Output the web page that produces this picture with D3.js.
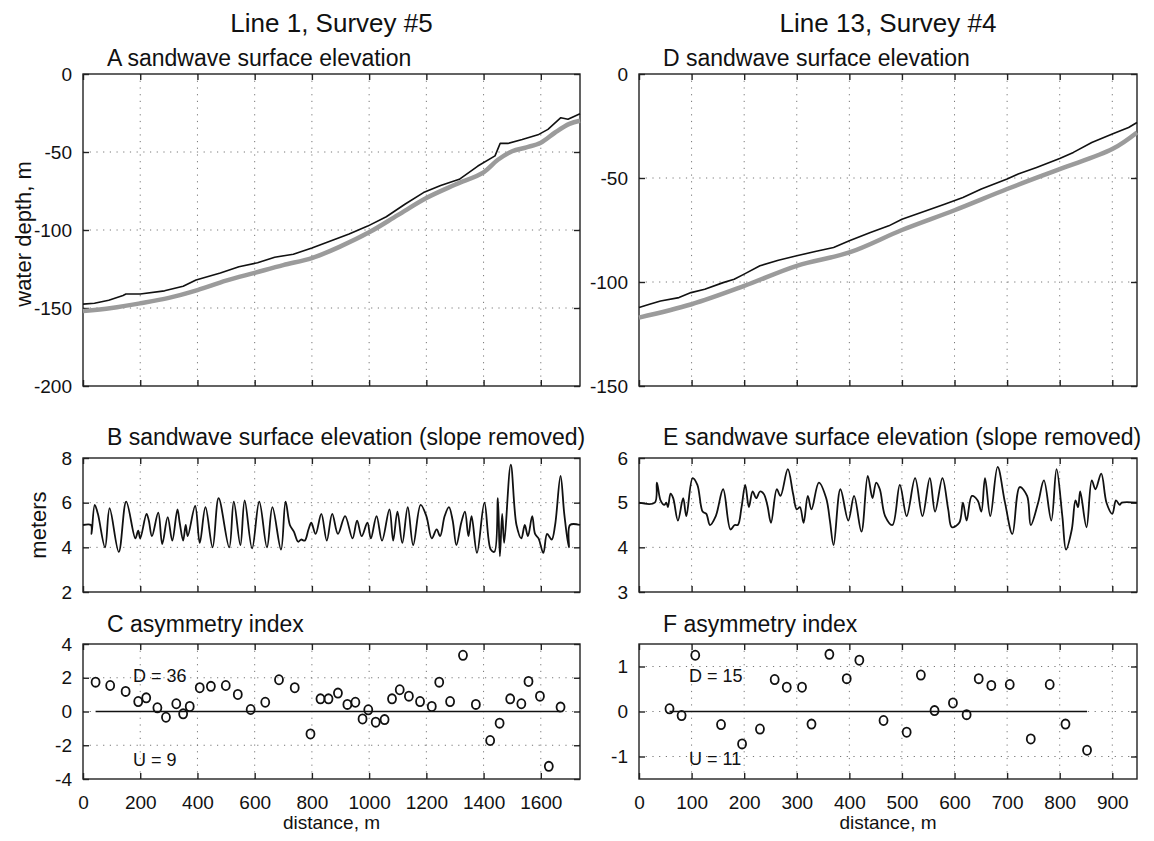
<!DOCTYPE html>
<html>
<head>
<meta charset="utf-8">
<script src="https://cdn.jsdelivr.net/npm/d3@7"></script>
<style>
    body { margin: 0; background: #fff; }
    svg { display: block; font-family: "Liberation Sans", Arial, Helvetica, sans-serif; }
</style>
</head>
<body>
<svg></svg>
<script>
// --- data ---

// Line 1, Survey #5 : profile (black) and smoothed trend (grey)
const distA1 = [0, 40, 90, 140, 150, 200, 285, 350, 395, 480, 545, 610, 670, 735, 800, 865, 930, 995, 1060, 1125, 1190, 1250, 1315, 1380, 1440, 1458, 1485, 1535, 1590, 1625, 1670, 1695, 1737];
const depthA1 = [-147.5, -147, -145, -142, -141, -141, -139, -136, -132, -127.5, -123.5, -121, -117.5, -115.5, -111.5, -107, -102.5, -97.5, -91.5, -83.5, -76, -71.5, -67.5, -59, -52.5, -44.5, -44.5, -42, -39, -35.5, -28, -29, -25.5];
const distA2 = [0, 100, 200, 300, 400, 500, 600, 700, 800, 900, 1000, 1100, 1200, 1300, 1400, 1450, 1500, 1550, 1600, 1650, 1700, 1737];
const depthA2 = [-152, -150, -147, -143.5, -138.5, -132.5, -127.5, -122.5, -118, -110.5, -101.5, -90.5, -79.5, -71, -63, -55, -49.5, -47, -44, -37.5, -32, -30];

// Line 1 : slope removed
const distB = [0, 28, 30, 41, 52, 77, 93, 125, 151, 183, 193, 200, 222, 230, 241, 263, 277, 296, 312, 330, 338, 350, 359, 366, 392, 408, 428, 453, 474, 511, 527, 550, 565, 591, 616, 643, 662, 692, 708, 723, 737, 752, 762, 775, 788, 798, 813, 833, 852, 871, 891, 916, 942, 958, 974, 994, 1006, 1026, 1045, 1071, 1084, 1099, 1116, 1135, 1154, 1180, 1200, 1219, 1236, 1248, 1264, 1279, 1292, 1305, 1322, 1335, 1347, 1358, 1377, 1403, 1425, 1438, 1450, 1457, 1465, 1472, 1495, 1515, 1532, 1544, 1555, 1570, 1580, 1592, 1609, 1622, 1638, 1650, 1669, 1682, 1698, 1702, 1737];
const elevB = [5, 5, 4.6, 5.9, 5.5, 4.0, 5.75, 3.8, 6.05, 4.4, 4.75, 4.4, 5.5, 5.2, 4.5, 5.55, 4.15, 5.35, 4.3, 5.7, 5.1, 4.3, 5.0, 4.5, 5.85, 4.2, 5.8, 4.0, 6.2, 4.0, 6.05, 4.1, 6.1, 3.95, 6.05, 4.0, 5.8, 3.9, 6.05, 5.0, 4.7, 4.25, 4.35, 4.3, 4.8, 5.1, 4.6, 5.5, 4.3, 5.5, 4.6, 5.4, 4.4, 5.2, 4.5, 5.1, 4.4, 5.4, 4.3, 5.7, 4.3, 5.6, 4.2, 5.8, 4.1, 5.9, 5.4, 4.4, 4.8, 4.5, 5.4, 5.8, 5.2, 4.1, 5.1, 5.6, 4.5, 5.4, 3.75, 6.0, 3.9, 3.8, 6.2, 3.6, 5.5, 4.2, 7.7, 5.0, 4.4, 5.0, 4.5, 5.4, 4.6, 4.4, 3.75, 4.6, 4.35, 5.0, 7.2, 5.5, 4.0, 5.0, 5.0];

// Line 1 : asymmetry index
const distC = [44, 95, 149, 193, 221, 260, 290, 326, 350, 373, 408, 447, 499, 541, 586, 637, 685, 740, 795, 830, 858, 891, 924, 952, 977, 997, 1023, 1054, 1080, 1107, 1139, 1178, 1219, 1245, 1283, 1328, 1373, 1423, 1456, 1493, 1532, 1557, 1597, 1628, 1669];
const asymC = [1.74, 1.54, 1.19, 0.59, 0.81, 0.22, -0.34, 0.46, -0.14, 0.30, 1.41, 1.49, 1.54, 1.01, 0.12, 0.55, 1.88, 1.41, -1.33, 0.75, 0.75, 1.09, 0.42, 0.55, -0.44, 0.10, -0.63, -0.48, 0.75, 1.29, 0.91, 0.59, 0.30, 1.74, 0.59, 3.33, 0.42, -1.72, -0.69, 0.75, 0.46, 1.78, 0.91, -3.25, 0.26];

// Line 13, Survey #4 : profile (black) and smoothed trend (grey)
const distD1 = [0, 20, 41, 76, 99, 125, 160, 181, 200, 230, 265, 300, 335, 370, 400, 440, 475, 500, 546, 581, 616, 651, 700, 721, 756, 800, 826, 861, 900, 931, 947];
const depthD1 = [-112.3, -110.7, -109.1, -107.5, -105.1, -103.5, -100.3, -98.7, -96.2, -92.2, -89.5, -87.4, -85.3, -83.4, -80.2, -76.2, -73, -69.8, -65.8, -62.6, -59.4, -55.3, -50.5, -48.1, -44.9, -40.6, -37.7, -32.9, -28.9, -25.7, -23.3];
const distD2 = [0, 100, 200, 300, 400, 500, 600, 700, 800, 900, 947];
const depthD2 = [-117.1, -110.7, -101.9, -92.2, -85.8, -75, -65.5, -55.3, -45.7, -36.1, -28.1];

// Line 13 : slope removed
const distE = [0, 30, 34, 41, 48, 52, 55, 60, 65, 74, 84, 90, 102, 111, 121, 128, 135, 146, 160, 174, 182, 188, 195, 202, 209, 216, 223, 230, 237, 244, 251, 262, 269, 283, 293, 300, 306, 313, 321, 328, 342, 356, 363, 370, 383, 398, 409, 423, 435, 444, 451, 458, 468, 482, 496, 509, 525, 539, 553, 563, 577, 588, 595, 609, 616, 623, 633, 644, 651, 658, 668, 682, 696, 710, 724, 738, 745, 759, 770, 784, 794, 805, 812, 823, 830, 835, 839, 851, 861, 868, 879, 889, 900, 907, 914, 918, 947];
const elevE = [5, 5, 5.45, 5.05, 4.95, 5.0, 4.9, 5.2, 5.1, 4.6, 5.1, 4.7, 5.55, 5.4, 4.8, 4.75, 4.5, 4.7, 5.3, 4.4, 4.5, 4.5, 4.9, 5.4, 4.9, 5.25, 5.1, 5.25, 5.2, 4.95, 4.55, 5.3, 5.15, 5.75, 5.2, 4.85, 4.9, 4.55, 5.15, 4.85, 5.45, 5.1, 4.6, 4.05, 5.3, 4.6, 5.15, 4.35, 5.6, 5.1, 5.45, 5.3, 4.7, 4.5, 5.4, 4.7, 5.55, 4.7, 5.55, 4.8, 5.55, 4.85, 4.45, 4.55, 5.0, 4.6, 5.15, 5.05, 4.8, 5.55, 4.7, 5.8, 5.0, 4.3, 5.35, 5.15, 4.5, 5.0, 5.5, 4.6, 5.75, 4.7, 3.95, 4.4, 5.05, 4.9, 5.25, 4.45, 5.5, 5.3, 5.65, 5.0, 4.75, 5.05, 4.95, 5.0, 5.0];

// Line 13 : asymmetry index
const distF = [58, 81, 107, 156, 196, 230, 258, 281, 310, 328, 362, 395, 419, 465, 509, 536, 562, 597, 623, 646, 670, 705, 745, 781, 811, 852];
const asymF = [0.06, -0.09, 1.25, -0.29, -0.72, -0.39, 0.71, 0.54, 0.54, -0.28, 1.27, 0.73, 1.14, -0.20, -0.46, 0.81, 0.02, 0.19, -0.07, 0.73, 0.58, 0.60, -0.61, 0.60, -0.28, -0.86];

const ticksLeftX = [0, 200, 400, 600, 800, 1000, 1200, 1400, 1600];
const ticksRightX = [0, 100, 200, 300, 400, 500, 600, 700, 800, 900];

// --- layout ---
const width = 1154;
const height = 841;
const ink = "#111";

const svg = d3.select("svg").attr("width", width).attr("height", height);

const colLeft = { x: 83, w: 497, domain: [0, 1737], ticks: ticksLeftX };
const colRight = { x: 639, w: 498, domain: [0, 947], ticks: ticksRightX };
const rowTop = { y: 74, h: 312 };
const rowMid = { y: 458, h: 134 };
const rowBot = { y: 644, h: 135 };

function panel(col, row, yDomain, yTicks, showX) {
    const g = svg.append("g").attr("transform", `translate(${col.x},${row.y})`);
    const x = d3.scaleLinear().domain(col.domain).range([0, col.w]);
    const y = d3.scaleLinear().domain(yDomain).range([row.h, 0]);

    // dotted grid
    g.selectAll("line.gx")
        .data(col.ticks.filter(t => t > col.domain[0] && t < col.domain[1]))
        .enter().append("line")
        .attr("x1", d => x(d)).attr("x2", d => x(d))
        .attr("y1", 0).attr("y2", row.h)
        .attr("stroke", "#777").attr("stroke-width", 1)
        .attr("stroke-dasharray", "1.2,5.5");
    g.selectAll("line.gy")
        .data(yTicks.filter(t => t > yDomain[0] && t < yDomain[1]))
        .enter().append("line")
        .attr("x1", 0).attr("x2", col.w)
        .attr("y1", d => y(d)).attr("y2", d => y(d))
        .attr("stroke", "#777").attr("stroke-width", 1)
        .attr("stroke-dasharray", "1.2,5.5");

    const axes = [
        g.append("g").attr("transform", `translate(0,${row.h})`)
            .call(d3.axisBottom(x).tickValues(col.ticks).tickSizeInner(-6).tickSizeOuter(0)
                .tickPadding(17).tickFormat(showX ? d => String(d) : "")),
        g.append("g")
            .call(d3.axisTop(x).tickValues(col.ticks).tickSizeInner(-6).tickSizeOuter(0).tickFormat("")),
        g.append("g")
            .call(d3.axisLeft(y).tickValues(yTicks).tickSizeInner(-6).tickSizeOuter(0)
                .tickPadding(11).tickFormat(d => String(d))),
        g.append("g").attr("transform", `translate(${col.w},0)`)
            .call(d3.axisRight(y).tickValues(yTicks).tickSizeInner(-6).tickSizeOuter(0).tickFormat(""))
    ];
    axes.forEach(a => {
        a.attr("font-family", null).attr("font-size", 19).style("color", ink);
        a.select(".domain").remove();
        a.selectAll(".tick line").attr("stroke", "#222").attr("stroke-width", 1.4);
    });

    g.append("rect")
        .attr("width", col.w).attr("height", row.h)
        .attr("fill", "none").attr("stroke", "#222").attr("stroke-width", 1.4);

    return { g, x, y };
}

function heading(col, baseline, letter, text) {
    svg.append("text")
        .attr("x", col.x + 24).attr("y", baseline)
        .attr("fill", ink).attr("font-size", 23)
        .text(letter + " " + text);
}

function profile(p, xs, ys, color, w, smooth) {
    const line = d3.line()
        .x(d => p.x(d[0]))
        .y(d => p.y(d[1]))
        .curve(smooth ? d3.curveCatmullRom.alpha(0.5) : d3.curveLinear);
    p.g.append("path")
        .datum(d3.zip(xs, ys))
        .attr("d", line)
        .attr("fill", "none")
        .attr("stroke", color)
        .attr("stroke-width", w)
        .attr("stroke-linejoin", "round");
}

function scatter(p, xs, ys) {
    const pts = d3.zip(xs, ys);
    p.g.append("line")
        .attr("x1", p.x(d3.min(xs))).attr("x2", p.x(d3.max(xs)))
        .attr("y1", p.y(0)).attr("y2", p.y(0))
        .attr("stroke", ink).attr("stroke-width", 1.3);
    p.g.selectAll("ellipse")
        .data(pts)
        .enter().append("ellipse")
        .attr("cx", d => p.x(d[0])).attr("cy", d => p.y(d[1]))
        .attr("rx", 4).attr("ry", 4.6)
        .attr("fill", "none").attr("stroke", ink).attr("stroke-width", 1.8);
}

function note(p, xv, yv, text) {
    p.g.append("text")
        .attr("x", p.x(xv)).attr("y", p.y(yv))
        .attr("fill", ink).attr("font-size", 18)
        .text(text);
}

// column titles
svg.append("text").attr("x", colLeft.x + colLeft.w / 2).attr("y", 32)
    .attr("text-anchor", "middle").attr("font-size", 26).attr("fill", ink)
    .text("Line 1, Survey #5");
svg.append("text").attr("x", colRight.x + colRight.w / 2).attr("y", 32)
    .attr("text-anchor", "middle").attr("font-size", 26).attr("fill", ink)
    .text("Line 13, Survey #4");

// A
const pA = panel(colLeft, rowTop, [-200, 0], [-200, -150, -100, -50, 0], false);
heading(colLeft, 66, "A", "sandwave surface elevation");
profile(pA, distA2, depthA2, "#9b9b9b", 4.5, true);
profile(pA, distA1, depthA1, ink, 1.6, false);

// D
const pD = panel(colRight, rowTop, [-150, 0], [-150, -100, -50, 0], false);
heading(colRight, 66, "D", "sandwave surface elevation");
profile(pD, distD2, depthD2, "#9b9b9b", 4.5, true);
profile(pD, distD1, depthD1, ink, 1.6, false);

// B
const pB = panel(colLeft, rowMid, [2, 8], [2, 4, 6, 8], false);
heading(colLeft, 445, "B", "sandwave surface elevation (slope removed)");
profile(pB, distB, elevB, ink, 1.8, true);

// E
const pE = panel(colRight, rowMid, [3, 6], [3, 4, 5, 6], false);
heading(colRight, 445, "E", "sandwave surface elevation (slope removed)");
profile(pE, distE, elevE, ink, 1.8, true);

// C
const pC = panel(colLeft, rowBot, [-4, 4], [-4, -2, 0, 2, 4], true);
heading(colLeft, 632, "C", "asymmetry index");
scatter(pC, distC, asymC);
note(pC, 175, 1.75, "D = 36");
note(pC, 175, -3.23, "U = 9");

// F
const pF = panel(colRight, rowBot, [-1.5, 1.5], [-1, 0, 1], true);
heading(colRight, 632, "F", "asymmetry index");
scatter(pF, distF, asymF);
note(pF, 95, 0.66, "D = 15");
note(pF, 95, -1.19, "U = 11");

// axis titles
svg.append("text")
    .attr("transform", `translate(31,${rowTop.y + rowTop.h / 2 + 4}) rotate(-90)`)
    .attr("text-anchor", "middle").attr("font-size", 22).attr("fill", ink)
    .text("water depth, m");
svg.append("text")
    .attr("transform", `translate(46,${rowMid.y + rowMid.h / 2}) rotate(-90)`)
    .attr("text-anchor", "middle").attr("font-size", 22).attr("fill", ink)
    .text("meters");
[colLeft, colRight].forEach(col => {
    svg.append("text")
        .attr("x", col.x + col.w / 2).attr("y", 829)
        .attr("text-anchor", "middle").attr("font-size", 19).attr("fill", ink)
        .text("distance, m");
});
</script>
</body>
</html>
